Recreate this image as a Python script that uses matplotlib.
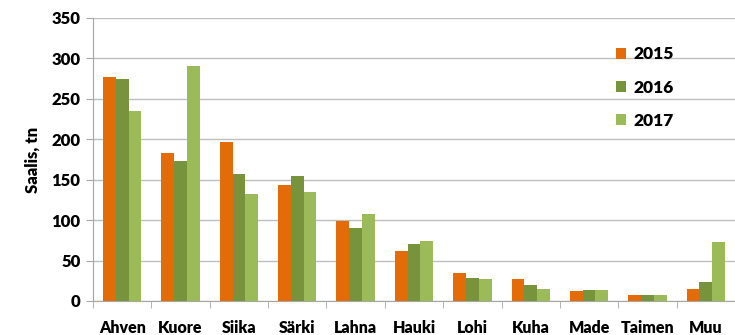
import numpy as np
import matplotlib
matplotlib.use("Agg")
import matplotlib.pyplot as plt
from matplotlib.ticker import FixedLocator

plt.rcParams["font.family"] = ["Lato", "DejaVu Sans"]
FW = "heavy"

lajit = ["Ahven", "Kuore", "Siika", "Särki", "Lahna", "Hauki", "Lohi", "Kuha", "Made", "Taimen", "Muu"]
v2015 = [277, 183, 196, 143, 99, 62, 34, 27, 12, 7, 15]
v2016 = [275, 173, 157, 154, 90, 71, 29, 20, 13, 7, 23]
v2017 = [235, 290, 132, 135, 107, 74, 27, 15, 14, 7, 73]
vuodet = ["2015", "2016", "2017"]
varit = ["#E36C09", "#77933C", "#9BBB59"]

fig = plt.figure(figsize=(7.35, 3.35), dpi=100)
ax = fig.add_axes([0.1265, 0.1015, 0.8735, 0.845])

x = np.arange(len(lajit))
w = 0.219
for i, (vals, lab, c) in enumerate(zip([v2015, v2016, v2017], vuodet, varit)):
    ax.bar(x + (i - 1) * w, vals, w, color=c, label=lab, zorder=3)

ax.set_xlim(-0.5, len(lajit) - 0.5)
ax.set_ylim(0, 350)
ax.set_yticks(range(0, 351, 50))
ax.grid(axis="y", color="#bfbfbf", lw=1.0, zorder=0)

for s in ["top", "right"]:
    ax.spines[s].set_visible(False)
for s in ["left", "bottom"]:
    ax.spines[s].set_color("#a6a6a6")

# category labels at centres, tick marks between categories
ax.set_xticks(x)
ax.set_xticklabels(lajit, fontsize=11.5, fontweight=FW)
ax.tick_params(axis="x", which="major", length=0, pad=14)
ax.xaxis.set_minor_locator(FixedLocator(np.arange(-0.5, len(lajit), 1.0)))
ax.tick_params(axis="x", which="minor", length=5, color="#a6a6a6", direction="out")
ax.tick_params(axis="y", length=5, color="#a6a6a6", labelsize=12, pad=4)
for t in ax.get_yticklabels():
    t.set_fontweight(FW)

ax.set_ylabel("Saalis, tn", fontsize=12, fontweight=FW, labelpad=8)

ax.legend(loc="upper left", bbox_to_anchor=(0.79, 0.955), frameon=False,
          prop={"size": 12.5, "weight": FW}, handlelength=0.6, handleheight=0.6,
          handletextpad=0.4, labelspacing=1.0)

fig.savefig("out.png", dpi=100)
